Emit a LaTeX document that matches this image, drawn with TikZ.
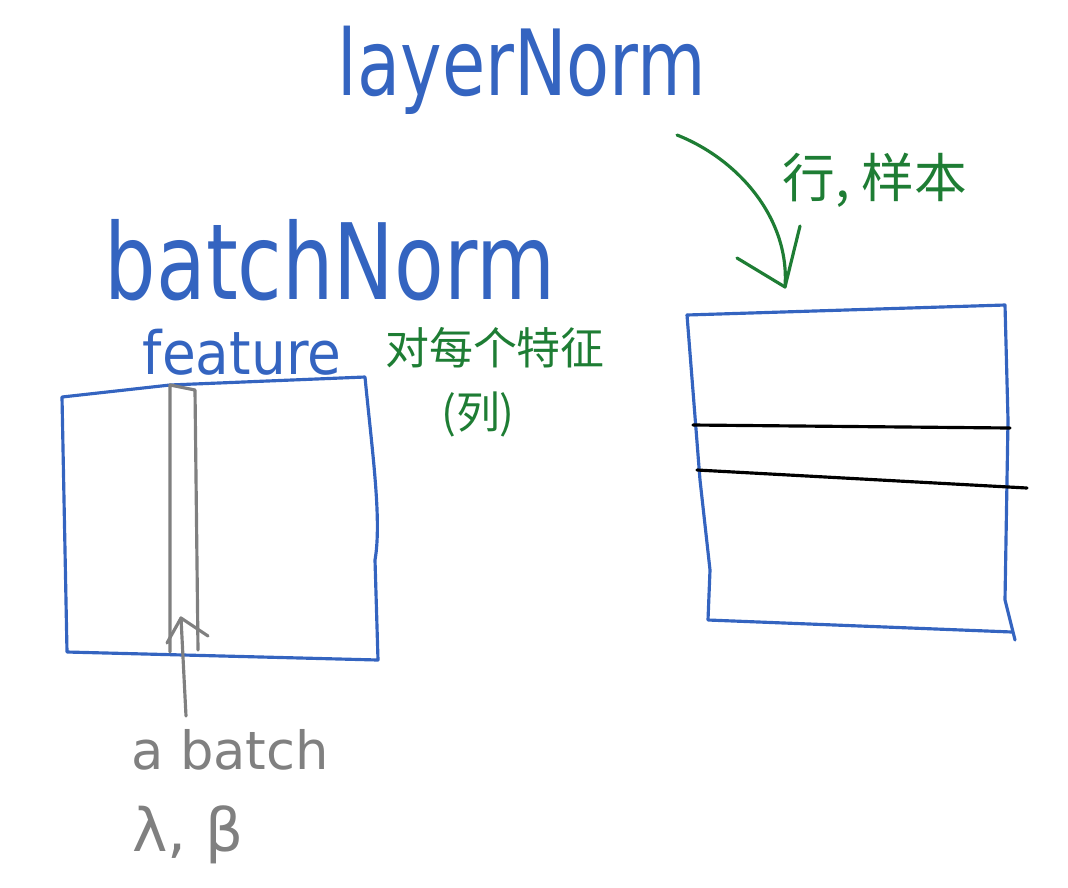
\documentclass[tikz,border=0pt]{standalone}
\usepackage{fontspec}
\setmainfont{DejaVu Sans}
\newfontfamily\cjk{Noto Sans CJK SC}
\definecolor{penblue}{RGB}{52,100,192}
\definecolor{pengreen}{RGB}{30,125,52}
\definecolor{pengray}{RGB}{128,128,128}
\tikzset{
  bluepen/.style={draw=penblue,line width=1.8pt,line cap=round,line join=round},
  greenpen/.style={draw=pengreen,line width=1.8pt,line cap=round,line join=round},
  graypen/.style={draw=pengray,line width=1.8pt,line cap=round,line join=round},
  blackpen/.style={draw=black,line width=1.8pt,line cap=round},
  lbl/.style={inner sep=0pt,anchor=center}
}
\begin{document}
\begin{tikzpicture}[x=0.02cm,y=-0.02cm]
\useasboundingbox (0,0) rectangle (1068,887);
% titles
\node[lbl,text=penblue] (ln) at (522,70) {\fontsize{52}{60}\selectfont\scalebox{0.77}[1]{layerNorm}};
\node[lbl,text=penblue] (bn) at (330,260) {\fontsize{60}{70}\selectfont\scalebox{0.77}[1]{batchNorm}};
\node[lbl,text=penblue] (feat) at (242,352) {\fontsize{34}{40}\selectfont\scalebox{0.92}[1]{feature}};
% green notes
\node[lbl,text=pengreen] (col1) at (495,348) {\cjk\fontsize{25}{30}\selectfont 对每个特征};
\node[lbl,text=pengreen] (col2) at (478,414) {\cjk\fontsize{25}{30}\selectfont (列)};
\node[lbl,text=pengreen] (row) at (875,180) {\cjk\fontsize{30}{36}\selectfont 行, 样本};
% gray notes
\node[lbl,text=pengray] (ab) at (230,750) {\fontsize{30}{36}\selectfont a batch};
\node[lbl,text=pengray] (lb) at (188,835) {\fontsize{34}{40}\selectfont λ, β};
% left box
\coordinate (L1) at (62,397);
\coordinate (L2) at (365,377);
\coordinate (L3) at (378,660);
\coordinate (L4) at (67,652);
\draw[bluepen] (L1) -- (170,385) -- (L2) .. controls (372,450) and (382,520) .. (375,560) -- (L3) -- (L4) -- cycle;
% gray column
\coordinate (C1) at (170,385);
\coordinate (C2) at (195,390);
\coordinate (C3) at (198,650);
\coordinate (C4) at (170,652);
\draw[graypen] (C4) -- (C1) -- (C2) -- (C3);
% gray arrow
\coordinate (gA) at (186,716);
\coordinate (gB) at (181,618);
\draw[graypen] (gA) -- (gB);
\draw[graypen] (167,643) -- (gB) -- (208,636);
% right box
\coordinate (R1) at (687,315);
\coordinate (R2) at (1005,305);
\coordinate (R3) at (1015,640);
\coordinate (R4) at (708,620);
\draw[bluepen] (R1) -- (R2) -- (1008,420) -- (1005,600) -- (R3);
\draw[bluepen] (R1) -- (700,480) -- (710,570) -- (R4) -- (1012,632);
% black rows
\coordinate (K1) at (693,425);
\coordinate (K2) at (1010,428);
\coordinate (K3) at (697,470);
\coordinate (K4) at (1027,488);
\draw[blackpen] (K1) -- (K2);
\draw[blackpen] (K3) -- (K4);
% green arrow
\coordinate (gs) at (677,135);
\coordinate (ge) at (785,287);
\draw[greenpen] (gs) .. controls (740,160) and (790,220) .. (ge);
\draw[greenpen] (737,258) -- (ge) -- (800,226);
\end{tikzpicture}
\end{document}
